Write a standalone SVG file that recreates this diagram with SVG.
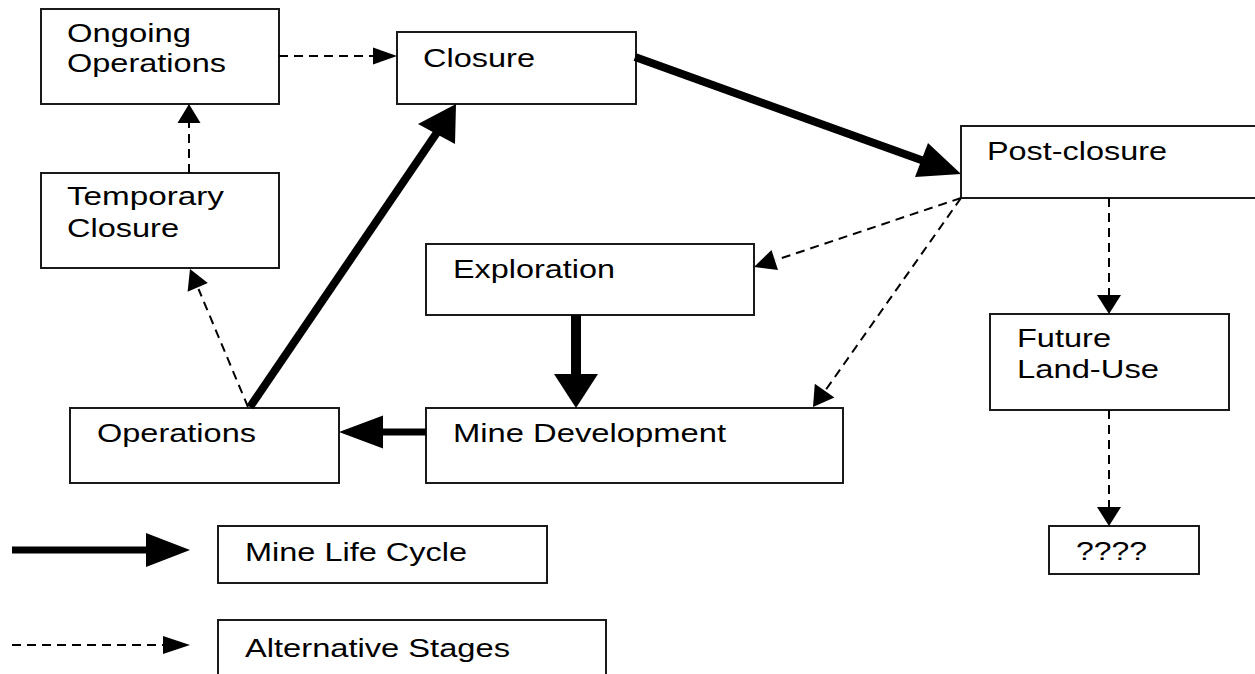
<svg xmlns="http://www.w3.org/2000/svg" width="1255" height="674" viewBox="0 0 1255 674">
<style>
.box{fill:#fff;stroke:#1a1a1a;stroke-width:2}
.t{font-family:"Liberation Sans",Arial,sans-serif;font-size:26px;fill:#000}
.thick{stroke:#000;fill:none}
.dash{stroke:#000;stroke-width:2;stroke-dasharray:9 6;fill:none}
.head{fill:#000;stroke:none}
</style>
<rect width="1255" height="674" fill="#fff"/>
<g id="ongoing-operations">
<rect class="box" x="41" y="9" width="238" height="95"/>
<text class="t" x="67" y="42" textLength="124" lengthAdjust="spacingAndGlyphs">Ongoing</text>
<text class="t" x="67" y="72" textLength="159" lengthAdjust="spacingAndGlyphs">Operations</text>
</g>
<g id="closure">
<rect class="box" x="397" y="32" width="239" height="72"/>
<text class="t" x="423" y="67" textLength="112" lengthAdjust="spacingAndGlyphs">Closure</text>
</g>
<g id="post-closure">
<rect class="box" x="961" y="126" width="300" height="72"/>
<text class="t" x="987" y="160" textLength="180" lengthAdjust="spacingAndGlyphs">Post-closure</text>
</g>
<g id="temporary-closure">
<rect class="box" x="41" y="173" width="238" height="95"/>
<text class="t" x="67" y="205" textLength="157" lengthAdjust="spacingAndGlyphs">Temporary</text>
<text class="t" x="67" y="237" textLength="112" lengthAdjust="spacingAndGlyphs">Closure</text>
</g>
<g id="exploration">
<rect class="box" x="426" y="244" width="328" height="71"/>
<text class="t" x="453" y="278" textLength="162" lengthAdjust="spacingAndGlyphs">Exploration</text>
</g>
<g id="mine-development">
<rect class="box" x="426" y="408" width="417" height="75"/>
<text class="t" x="453" y="442" textLength="273" lengthAdjust="spacingAndGlyphs">Mine Development</text>
</g>
<g id="operations">
<rect class="box" x="70" y="408" width="269" height="75"/>
<text class="t" x="97" y="442" textLength="159" lengthAdjust="spacingAndGlyphs">Operations</text>
</g>
<g id="future-land-use">
<rect class="box" x="990" y="314" width="239" height="96"/>
<text class="t" x="1017" y="347" textLength="94" lengthAdjust="spacingAndGlyphs">Future</text>
<text class="t" x="1017" y="378" textLength="142" lengthAdjust="spacingAndGlyphs">Land-Use</text>
</g>
<g id="unknown">
<rect class="box" x="1049" y="526" width="150" height="48"/>
<text class="t" x="1076" y="560" textLength="71" lengthAdjust="spacingAndGlyphs">????</text>
</g>
<g id="legend-life-cycle">
<rect class="box" x="218" y="526" width="329" height="57"/>
<text class="t" x="245" y="561" textLength="222" lengthAdjust="spacingAndGlyphs">Mine Life Cycle</text>
</g>
<g id="legend-alternative">
<rect class="box" x="218" y="620" width="388" height="70"/>
<text class="t" x="245" y="657" textLength="265" lengthAdjust="spacingAndGlyphs">Alternative Stages</text>
</g>
<g id="connectors">
<line class="dash" x1="279" y1="56" x2="374" y2="56"/>
<polygon class="head" points="397,56 373,47.5 373,64.5"/>
<line class="dash" x1="189" y1="173" x2="189" y2="122"/>
<polygon class="head" points="189,104 177.5,123 200.5,123"/>
<line class="dash" x1="248" y1="407" x2="198.5" y2="289"/>
<polygon class="head" points="190,269 207.8,283.1 187.6,291.7"/>
<line class="thick" stroke-width="8" x1="250" y1="407" x2="438" y2="131"/>
<polygon class="head" points="456,104 455,144 418,124"/>
<line class="thick" stroke-width="8" x1="635" y1="57" x2="924" y2="161"/>
<polygon class="head" points="961,174 928,143 915,177"/>
<line class="thick" stroke-width="10" x1="576" y1="315" x2="576" y2="376"/>
<polygon class="head" points="576,408 554,374 598,374"/>
<line class="thick" stroke-width="7" x1="426" y1="432" x2="380" y2="432"/>
<polygon class="head" points="339,432 383,415.5 383,448.5"/>
<line class="dash" x1="961" y1="198" x2="776" y2="260"/>
<polygon class="head" points="754,267 771.5,250 778,270"/>
<line class="dash" x1="961" y1="198" x2="825" y2="391"/>
<polygon class="head" points="813,407 814.8,383.8 834.4,397.6"/>
<line class="dash" x1="1109" y1="198" x2="1109" y2="296"/>
<polygon class="head" points="1109,314 1097,295 1121,295"/>
<line class="dash" x1="1109" y1="410" x2="1109" y2="508"/>
<polygon class="head" points="1109,526 1097,507 1121,507"/>
<line class="thick" stroke-width="7" x1="12" y1="550" x2="148" y2="550"/>
<polygon class="head" points="190,550 146,533 146,567"/>
<line class="dash" x1="12" y1="645" x2="165" y2="645"/>
<polygon class="head" points="190,645 163,636 163,654"/>
</g>
</svg>
